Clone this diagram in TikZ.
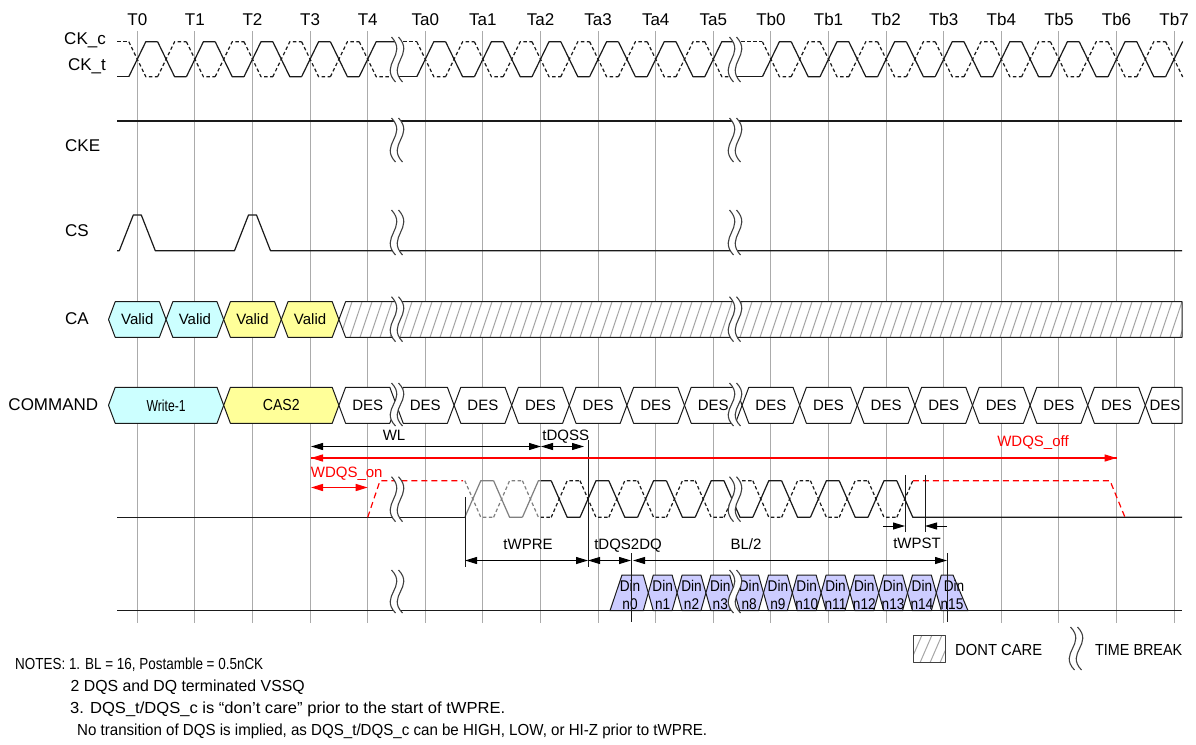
\documentclass[tikz,border=0pt]{standalone}
\usepackage{fontspec}
\setmainfont{Liberation Sans}
\usetikzlibrary{arrows.meta}
\definecolor{cyanbox}{HTML}{CCFFFF}
\definecolor{yelbox}{HTML}{FFFF99}
\definecolor{dinbox}{HTML}{CCCCFF}
\definecolor{gridc}{HTML}{ABABAB}
\definecolor{sigc}{HTML}{1A1A1A}
\definecolor{brkc}{HTML}{404040}
\definecolor{hatchc}{HTML}{A6A6A6}
\definecolor{redc}{HTML}{FF0000}
\definecolor{prec}{HTML}{7F7F7F}
% #1 style, #2 base x, #3 half width, #4 first n, #5 last n, #6 x start, #7 x end, #8 level after even, #9 level after odd
\newcommand\wave[9]{%
  \foreach \n in {#4,...,#5}{%
    \pgfmathsetmacro\wxc{#2+28.8*\n}%
    \pgfmathtruncatemacro\wpp{mod(\n+100,2)}%
    \ifnum\wpp=0 \def\wya{#9}\def\wyb{#8}\else\def\wya{#8}\def\wyb{#9}\fi
    \pgfmathsetmacro\wxl{\wxc-#3}%
    \pgfmathsetmacro\wxr{\wxc+#3}%
    \pgfmathsetmacro\wxn{\n==#5 ? #7 : \wxc+28.8-#3}%
    \draw[#1] (\wxl,\wya) -- (\wxr,\wyb) -- (\wxn,\wyb);
  }%
  \pgfmathsetmacro\wxf{#2+28.8*#4-#3}%
  \pgfmathtruncatemacro\wpp{mod(#4+100,2)}%
  \ifnum\wpp=0 \def\wya{#9}\else\def\wya{#8}\fi
  \draw[#1] (#6,\wya) -- (\wxf,\wya);
}
% time break: #1 x0, #2 ytop, #3 ybot
\newcommand\tbreak[3]{%
  \pgfmathsetmacro\bca{#2+0.4*(#3-#2)}%
  \pgfmathsetmacro\bcb{#3-0.4*(#3-#2)}%
  \fill[white] ({#1-5.5},#2) .. controls ({#1+11},\bca) and ({#1-18},\bcb) .. ({#1-1.5},#3)
     -- ({#1+5.5},#3) .. controls ({#1-11},\bcb) and ({#1+18},\bca) .. ({#1+1.5},#2) -- cycle;
  \draw[brkline] ({#1-5.5},#2) .. controls ({#1+11},\bca) and ({#1-18},\bcb) .. ({#1-1.5},#3);
  \draw[brkline] ({#1+1.5},#2) .. controls ({#1+18},\bca) and ({#1-11},\bcb) .. ({#1+5.5},#3);
}
% hexagon box: #1 name #2 xl #3 xr #4 ytop #5 ybot #6 fill #7 text
\newcommand\hexbox[7]{%
  \pgfmathsetmacro\hxm{(#4+#5)/2}%
  \pgfmathsetmacro\hxl{#2+6.7}%
  \pgfmathsetmacro\hxr{#3-6.7}%
  \pgfmathsetmacro\hxc{(#2+#3)/2}%
  \draw[boxline, fill=#6] (#2,\hxm) -- (\hxl,#4) -- (\hxr,#4) -- (#3,\hxm) -- (\hxr,#5) -- (\hxl,#5) -- cycle;
  \node[boxtxt] (#1) at (\hxc,\hxm) {#7};
}
\begin{document}
\begin{tikzpicture}[x=1pt,y=-1pt,
  sigline/.style={line width=1.2pt, draw=sigc, line join=round},
  dsig/.style={sigline, dash pattern=on 3.5pt off 2.5pt},
  reddash/.style={line width=1.2pt, draw=redc, dash pattern=on 6pt off 4pt},
  gridline/.style={draw=gridc, line width=1pt},
  brkline/.style={draw=brkc, line width=1.1pt},
  boxline/.style={draw=sigc, line width=1pt, line join=round},
  hatchline/.style={draw=hatchc, line width=1pt},
  thinline/.style={draw=sigc, line width=1pt},
  dimarr/.style={line width=1pt, arrows={Triangle[length=12pt,width=7pt]-Triangle[length=12pt,width=7pt]}},
  redline/.style={line width=1.5pt, draw=redc},
  redtip/.style={redc, arrows={-Triangle[length=12pt,width=7pt]}, line width=1.5pt},
  endarr/.style={line width=1pt, arrows={-Triangle[length=12pt,width=7pt]}},
  tlbl/.style={font=\fontsize{17}{20}\selectfont, inner sep=0pt},
  lbl/.style={font=\fontsize{17}{20}\selectfont, inner sep=0pt},
  boxtxt/.style={font=\fontsize{15}{15}\selectfont, inner sep=0pt},
  bigboxtxt/.style={font=\fontsize{16}{16}\selectfont, inner sep=0pt},
  dimtxt/.style={font=\fontsize{15}{15}\selectfont, inner sep=0pt},
  dintxt/.style={font=\fontsize{15.5}{15}\selectfont, inner sep=0pt},
  notetxt/.style={font=\fontsize{16}{16}\selectfont, inner sep=0pt},
  legtxt/.style={font=\fontsize{16}{16}\selectfont, inner sep=0pt}
]
\useasboundingbox (0,0) rectangle (1196,744);
\fill[white] (0,0) rectangle (1196,744);

% grid lines and time labels
\foreach \i/\t in {0/T0,1/T1,2/T2,3/T3,4/T4,5/Ta0,6/Ta1,7/Ta2,8/Ta3,9/Ta4,10/Ta5,11/Tb0,12/Tb1,13/Tb2,14/Tb3,15/Tb4,16/Tb5,17/Tb6,18/Tb7}{
  \pgfmathsetmacro\gx{137.3+57.6*\i}
  \draw[gridline] (\gx,31) -- (\gx,623);
  \node[tlbl, anchor=base] (\t) at (\gx,25) {\t};
}

% row labels
\node[lbl, anchor=base east] (ckc) at (106,44.3) {CK\_c};
\node[lbl, anchor=base east] (ckt) at (106,70) {CK\_t};
\node[lbl, anchor=base west] (cke) at (65,151.7) {CKE};
\node[lbl, anchor=base west] (cs) at (65,236.7) {CS};
\node[lbl, anchor=base west] (ca) at (65,324.3) {CA};
\node[lbl, anchor=base west] (cmd) at (8.3,410) {COMMAND};

% clock
\wave{sigline}{137.3}{8.5}{0}{8}{117}{397}{41.7}{76.7}
\wave{sigline}{137.3}{8.5}{10}{20}{397}{735}{41.7}{76.7}
\wave{sigline}{137.3}{8.5}{22}{36}{735}{1182.6}{41.7}{76.7}
\wave{dsig}{137.3}{8.5}{0}{8}{117}{397}{76.7}{41.7}
\wave{dsig}{137.3}{8.5}{10}{20}{397}{735}{76.7}{41.7}
\wave{dsig}{137.3}{8.5}{22}{36}{735}{1182.6}{76.7}{41.7}

% CKE
\draw[sigline] (117,121) -- (1182,121);
% CS
\draw[sigline] (117,250.7) -- (119.3,250.7) -- (133.3,215) -- (141.3,215) -- (155.3,250.7)
  -- (234.5,250.7) -- (248.5,215) -- (256.5,215) -- (270.5,250.7) -- (1182,250.7);

% CA
\hexbox{ca0}{108.5}{166.1}{301.7}{337.3}{cyanbox}{Valid}
\hexbox{ca1}{166.1}{223.7}{301.7}{337.3}{cyanbox}{Valid}
\hexbox{ca2}{223.7}{281.3}{301.7}{337.3}{yelbox}{Valid}
\hexbox{ca3}{281.3}{338.9}{301.7}{337.3}{yelbox}{Valid}
\begin{scope}
  \clip (338.9,319.5) -- (345.6,301.7) -- (1182,301.7) -- (1182,337.3) -- (345.6,337.3) -- cycle;
  \fill[white] (330,300) rectangle (1190,340);
  \foreach \h in {330,340,...,1190} \draw[hatchline] (\h,337.3) -- (\h+12,301.7);
\end{scope}
\draw[boxline] (338.9,319.5) -- (345.6,301.7) -- (1182,301.7) -- (1182,337.3) -- (345.6,337.3) -- cycle;

% COMMAND
\hexbox{wr}{108.5}{223.7}{387.3}{423.3}{cyanbox}{\fontsize{16}{16}\selectfont\scalebox{0.76}[1]{Write-1}}
\hexbox{cas}{223.7}{338.9}{387.3}{423.3}{yelbox}{\fontsize{16}{16}\selectfont\scalebox{0.88}[1]{CAS2}}
\foreach \j in {0,...,13}{
  \pgfmathsetmacro\dc{367.7+57.6*\j}
  \pgfmathsetmacro\dl{\dc-28.8}
  \pgfmathsetmacro\dr{\dc+28.8}
  \hexbox{des\j}{\dl}{\dr}{387.3}{423.3}{white}{DES}
}
\draw[boxline, fill=white] (1145.3,405.3) -- (1152,387.3) -- (1182,387.3) -- (1182,423.3) -- (1152,423.3) -- cycle;
\node[boxtxt] (des14) at (1165,405.3) {DES};

% DQS
\draw[sigline] (117,517.3) -- (464.8,517.3);
\draw[reddash] (367.7,517.3) -- (380,480.7) -- (463,480.7);
\begin{scope}
  \clip (455,470) rectangle (541,530);
  \wave{sigline,draw=prec}{588}{8}{-4}{11}{464.8}{1182}{480.7}{517.3}
  \wave{dsig,draw=prec}{588}{8}{-4}{11}{464.8}{912.8}{517.3}{480.7}
\end{scope}
\begin{scope}
  \clip (541,470) rectangle (1190,530);
  \wave{sigline}{588}{8}{-4}{11}{464.8}{1182}{480.7}{517.3}
  \wave{dsig}{588}{8}{-4}{11}{464.8}{912.8}{517.3}{480.7}
\end{scope}
\draw[reddash] (912.8,480.7) -- (1110,480.7) -- (1125,517.3);

% DQ
\draw[sigline] (117,610.7) -- (1182,610.7);
\draw[boxline, fill=dinbox] (610,610.7) -- (622,575) -- (643.3,575) -- (648.3,592.85) -- (643.3,610.7) -- cycle;
\node[dintxt, anchor=base] (dinA0) at (630,591) {\scalebox{0.88}[1]{Din}};
\node[dintxt, anchor=base] (dinB0) at (630,609) {\scalebox{0.88}[1]{n0}};
\foreach \i/\lab in {1/n1,2/n2,3/n3,4/n8,5/n9,6/n10,7/n11,8/n12,9/n13,10/n14}{
  \pgfmathsetmacro\ea{619.5+28.8*\i}
  \pgfmathsetmacro\eb{\ea+28.8}
  \pgfmathsetmacro\eal{\ea+5}
  \pgfmathsetmacro\ebl{\eb-5}
  \pgfmathsetmacro\ec{\ea+14.4}
  \draw[boxline, fill=dinbox] (\ea,592.85) -- (\eal,575) -- (\ebl,575) -- (\eb,592.85) -- (\ebl,610.7) -- (\eal,610.7) -- cycle;
  \node[dintxt, anchor=base] (dinA\i) at (\ec,591) {\scalebox{0.88}[1]{Din}};
  \node[dintxt, anchor=base] (dinB\i) at (\ec,609) {\scalebox{0.88}[1]{\lab}};
}
\draw[boxline, fill=dinbox] (936.3,592.85) -- (941.3,575) -- (953,575) -- (968,610.7) -- (941.3,610.7) -- cycle;
\node[dintxt, anchor=base] (dinA11) at (954,591) {\scalebox{0.88}[1]{Din}};
\node[dintxt, anchor=base] (dinB11) at (952,609) {\scalebox{0.88}[1]{n15}};

% time breaks
\foreach \bx in {397,735}{
  \tbreak{\bx}{37}{82}
  \tbreak{\bx}{118}{162}
  \tbreak{\bx}{210}{255}
  \tbreak{\bx}{296.7}{341.7}
  \tbreak{\bx}{383}{426}
  \tbreak{\bx}{476.7}{521.7}
  \tbreak{\bx}{570}{613}
}

% reference lines
\draw[thinline] (588,440) -- (588,567);
\draw[thinline] (465,497) -- (465,567);
\draw[thinline] (631,553) -- (631,622);
\draw[thinline] (947,553) -- (947,622);
\draw[thinline] (905,475) -- (905,532);
\draw[thinline] (925,475) -- (925,532);

% timing arrows
\coordinate (wlA) at (311,446.5); \coordinate (wlB) at (541,446.5); \coordinate (dqssB) at (584,446.5);
\draw[dimarr] (wlA) -- (wlB);
\draw[dimarr] (wlB) -- (dqssB);
\coordinate (offA) at (311,458); \coordinate (offB) at (1116.5,458); \coordinate (offM) at (700,458);
\draw[redline] (offA) -- (offB);
\draw[redtip] (offM) -- (offA);
\draw[redtip] (offM) -- (offB);
\coordinate (onA) at (311,487.5); \coordinate (onB) at (367.7,487.5); \coordinate (onM) at (339,487.5);
\draw[redtip] (onM) -- (onA);
\draw[redtip] (onM) -- (onB);
\coordinate (preA) at (465,560.5); \coordinate (preB) at (588,560.5);
\coordinate (s2dB) at (631,560.5); \coordinate (blA) at (633,560.5); \coordinate (blB) at (947,560.5);
\draw[dimarr] (preA) -- (preB);
\draw[dimarr] (preB) -- (s2dB);
\draw[dimarr] (blA) -- (blB);
\coordinate (pstA) at (883,526); \coordinate (pstB) at (905,526);
\coordinate (pstC) at (947,526); \coordinate (pstD) at (925,526);
\draw[endarr] (pstA) -- (pstB);
\draw[endarr] (pstC) -- (pstD);

% timing labels
\node[dimtxt, anchor=base] (wl) at (394,440) {WL};
\node[dimtxt, anchor=base] (tdqss) at (565.8,440.5) {tDQSS};
\node[dimtxt, anchor=base, text=redc] (wdqsoff) at (1033,446.7) {WDQS\_off};
\node[dimtxt, anchor=base, text=redc] (wdqson) at (346.7,477) {WDQS\_on};
\node[dimtxt, anchor=base] (twpre) at (528,549) {tWPRE};
\node[dimtxt, anchor=base] (tdqs2dq) at (628,549) {tDQS2DQ};
\node[dimtxt, anchor=base] (bl2) at (746,549) {BL/2};
\node[dimtxt, anchor=base] (twpst) at (917,548.5) {tWPST};

% legend
\begin{scope}
  \clip (913,635) rectangle (945,662.7);
  \foreach \h in {900,910,...,950} \draw[hatchline] (\h,662.7) -- (\h+12,635);
\end{scope}
\draw[boxline, draw=brkc] (913,635) rectangle (945,662.7);
\node[legtxt, anchor=base west] (dontcare) at (955,655) {\resizebox{87pt}{\height}{DONT CARE}};
\tbreak{1076}{627}{670}
\node[legtxt, anchor=base west] (timebreak) at (1095,655) {\resizebox{87pt}{\height}{TIME BREAK}};

% notes
\node[notetxt, anchor=base west] (note1) at (15,669) {\resizebox{248pt}{\height}{NOTES: 1. BL = 16, Postamble = 0.5nCK}};
\node[notetxt, anchor=base west] (note2) at (70.5,691) {\resizebox{234pt}{\height}{2 DQS and DQ terminated VSSQ}};
\node[notetxt, anchor=base west] (note3) at (70,713) {\resizebox{435pt}{\height}{3. DQS\_t/DQS\_c is “don't care” prior to the start of tWPRE.}};
\node[notetxt, anchor=base west] (note4) at (77,735) {\resizebox{630pt}{\height}{No transition of DQS is implied, as DQS\_t/DQS\_c can be HIGH, LOW, or HI-Z prior to tWPRE.}};
\end{tikzpicture}
\end{document}
